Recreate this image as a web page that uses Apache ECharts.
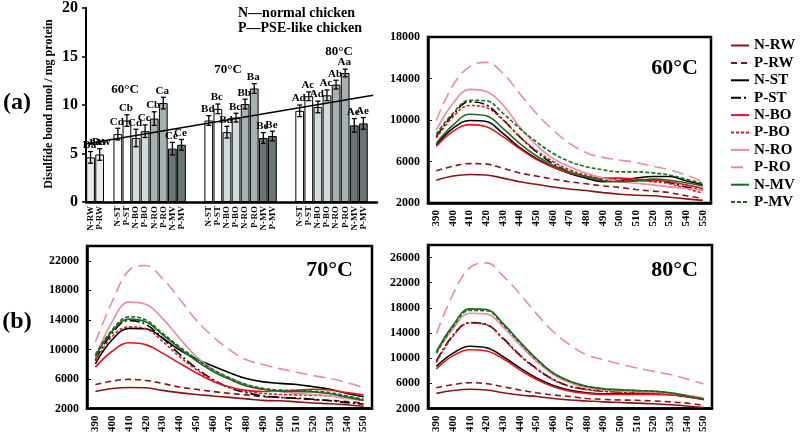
<!DOCTYPE html>
<html><head><meta charset="utf-8">
<script src="https://cdn.jsdelivr.net/npm/echarts@6/dist/echarts.min.js"></script>
<style>html,body{margin:0;padding:0;background:#fff}#c{width:800px;height:435px}</style>
</head><body><div id="c"></div>
<script>
// ---- Panel (a): disulfide bond bars ----
const barCategories = ['N-RW','P-RW','',
  'N-ST','P-ST','N-BO','P-BO','N-RO','P-RO','N-MV','P-MV','','',
  'N-ST','P-ST','N-BO','P-BO','N-RO','P-RO','N-MV','P-MV','','',
  'N-ST','P-ST','N-BO','P-BO','N-RO','P-RO','N-MV','P-MV',''];
const barValues = [4.6,4.9,null,
  7.0,8.4,6.6,7.3,8.6,10.2,5.5,5.9,null,null,
  8.4,9.6,7.2,8.7,10.1,11.7,6.6,6.8,null,null,
  9.4,10.9,9.8,11.0,12.1,13.3,7.9,8.1,null];
const barErrors = [0.6,0.6,null,
  0.6,0.6,0.9,0.65,0.7,0.6,0.65,0.55,null,null,
  0.5,0.5,0.6,0.45,0.5,0.5,0.55,0.5,null,null,
  0.6,0.45,0.6,0.55,0.45,0.4,0.7,0.6,null];
const barLetters = ['Da','Da','',
  'Cd','Cb','Cd','Cc','Cb','Ca','Ce','Ce','','',
  'Bd','Bc','Bd','Bc','Bb','Ba','Be','Be','','',
  'Ad','Ac','Ad','Ac','Ab','Aa','Ae','Ae',''];
const trendLine = [[0.003,6.0],[0.987,11.0]];

// ---- Panel (b): fluorescence spectra ----
const wavelengths = ['390','400','410','420','430','440','450','460','470','480','490','500','510','520','530','540','550'];
const seriesNames = ['N-RW','P-RW','N-ST','P-ST','N-BO','P-BO','N-RO','P-RO','N-MV','P-MV'];

const spec60_NRW = [4200,4600,4750,4700,4400,4050,3800,3550,3350,3200,3000,2850,2750,2700,2550,2400,2250];
const spec60_PRW = [5100,5550,5800,5750,5350,4900,4600,4300,4050,3850,3650,3500,3300,3150,3000,2700,2450];
const spec60_NST = [7600,9200,9950,9850,8700,7350,6300,5500,4850,4400,4050,4150,4400,4550,4550,4150,3750];
const spec60_PST = [8400,10500,11750,11450,10050,8400,6950,5800,5000,4550,4200,4150,4150,4150,3950,3550,3250];
const spec60_NBO = [7450,8900,9550,9350,8400,7250,6200,5450,4900,4550,4400,4400,4300,4200,4050,3750,3400];
const spec60_PBO = [8250,10300,11400,11200,10000,8400,7050,6000,5200,4700,4400,4200,4150,4050,3850,3400,2950];
const spec60_NRO = [9050,11600,12950,12750,11450,9350,7600,6300,5500,4900,4400,4050,3900,3750,3550,3400,3250];
const spec60_PRO = [9950,13350,15150,15550,14500,12550,10650,9050,7750,6850,6400,6150,5900,5550,5200,4700,4050];
const spec60_NMV = [7750,9500,10550,10400,9200,7750,6550,5650,5000,4550,4150,4050,4150,4300,4200,3950,3650];
const spec60_PMV = [8650,10650,11900,11850,10650,9200,7900,6800,6000,5500,5200,5000,5000,4900,4700,4300,3900];

const spec70_NRW = [4300,4700,4850,4800,4450,4150,3900,3700,3500,3300,3100,3050,2900,2750,2650,2500,2300];
const spec70_PRW = [5250,5700,5950,5800,5400,4900,4600,4300,4050,3850,3600,3500,3350,3200,3100,2950,2700];
const spec70_NST = [8050,11300,12850,12800,11550,9950,8750,7750,6850,6050,5600,5400,5250,4950,4600,4050,3600];
const spec70_PST = [8600,12200,13900,13400,11550,9400,7500,5950,4800,4150,3700,3500,3400,3250,3050,2800,2600];
const spec70_NBO = [7600,9750,10900,10650,9500,8150,6850,5700,4900,4450,4300,4350,4450,4600,4500,4150,3850];
const spec70_PBO = [8400,11750,13050,12800,11100,9050,7300,5800,4900,4350,4050,3900,3850,3800,3700,3500,3150];
const spec70_NRO = [8850,13750,16400,16100,14200,11550,9050,7300,6150,5250,4600,4300,4050,3900,3700,3350,3050];
const spec70_PRO = [11000,16450,20700,21350,19600,16900,14000,11750,9950,8600,7950,7400,6900,6450,6050,5500,4800];
const spec70_NMV = [9050,12450,14100,13750,12000,10200,8500,7050,5950,5050,4600,4350,4300,4250,4000,3550,3100];
const spec70_PMV = [9300,12650,14400,14000,12200,10400,8750,7300,6150,5250,4750,4500,4450,4350,4150,3700,3250];

const spec80_NRW = [4400,4850,5050,4950,4500,4150,3900,3600,3350,3200,3050,2950,2850,2750,2600,2400,2150];
const spec80_PRW = [5300,5800,6100,5950,5450,4950,4500,4150,3900,3600,3450,3350,3300,3200,3050,2850,2500];
const spec80_NST = [8700,10800,11900,11650,10250,8450,6850,5650,4900,4500,4350,4350,4400,4400,4250,3900,3450];
const spec80_PST = [9500,13650,15650,15350,13150,10500,8350,6600,5550,5050,4750,4650,4500,4400,4250,3900,3450];
const spec80_NBO = [8300,10400,11350,11150,9900,8150,6600,5450,4750,4400,4250,4250,4250,4250,4150,3850,3450];
const spec80_PBO = [9300,13500,15600,15300,13050,10400,8250,6550,5500,5000,4750,4600,4500,4400,4250,3900,3400];
const spec80_NRO = [10800,14700,17150,17050,14950,12100,9500,7400,6100,5300,4950,4800,4650,4600,4400,4100,3700];
const spec80_PRO = [13900,20200,24400,25150,23050,20200,17050,14200,12100,10500,9750,9050,8450,7900,7400,6700,5900];
const spec80_NMV = [11050,15250,17850,17750,15500,12600,9900,7650,6350,5550,5150,5000,4850,4750,4500,4000,3450];
const spec80_PMV = [10800,15000,17600,17550,15300,12450,9800,7600,6300,5500,5100,4950,4850,4750,4500,4000,3500];

const panel60 = [spec60_NRW,spec60_PRW,spec60_NST,spec60_PST,spec60_NBO,spec60_PBO,spec60_NRO,spec60_PRO,spec60_NMV,spec60_PMV];
const panel70 = [spec70_NRW,spec70_PRW,spec70_NST,spec70_PST,spec70_NBO,spec70_PBO,spec70_NRO,spec70_PRO,spec70_NMV,spec70_PMV];
const panel80 = [spec80_NRW,spec80_PRW,spec80_NST,spec80_PST,spec80_NBO,spec80_PBO,spec80_NRO,spec80_PRO,spec80_NMV,spec80_PMV];

// ---- styles ----
const FONT = '"Liberation Serif","Times New Roman",serif';
const barFill = {RW:'#e8ecec', ST:'#ffffff', BO:'#d2dbdb', RO:'#a6b2b2', MV:'#6a7676'};
const lineStyles = {
  'N-RW':{color:'#8b1414', type:'solid'},
  'P-RW':{color:'#8b1414', type:[6,4]},
  'N-ST':{color:'#000000', type:'solid'},
  'P-ST':{color:'#000000', type:[10,3,2,3]},
  'N-BO':{color:'#e5161b', type:'solid'},
  'P-BO':{color:'#e5161b', type:[3,2]},
  'N-RO':{color:'#ea8ca6', type:'solid'},
  'P-RO':{color:'#ea8ca6', type:[12,6]},
  'N-MV':{color:'#1d6b1d', type:'solid'},
  'P-MV':{color:'#1d6b1d', type:[4,2]}
};

const chart = echarts.init(document.getElementById('c'), null, {renderer:'canvas'});

const grids = [
  {left:86, top:7, width:291, height:195},
  {left:428, top:37, width:283, height:166, show:true, borderColor:'#000', borderWidth:2.5},
  {left:87, top:246, width:285, height:165, show:true, borderColor:'#000', borderWidth:2.5},
  {left:428, top:245, width:284, height:166, show:true, borderColor:'#000', borderWidth:2.5}
];

function specX(gi){
  return {type:'category', gridIndex:gi, data:wavelengths, boundaryGap:true,
    axisLine:{lineStyle:{color:'#000', width:2.5}},
    axisTick:{inside:true, length:3, lineStyle:{color:'#000', width:1}},
    axisLabel:{rotate:90, interval:0, margin:7, color:'#000', fontFamily:FONT, fontWeight:'bold', fontSize:11},
    splitLine:{show:false}};
}
function specY(gi, max){
  return {type:'value', gridIndex:gi, min:2000, max:max, interval:4000,
    axisLine:{show:true, lineStyle:{color:'#000', width:2.5}},
    axisTick:{show:true, inside:true, length:4, lineStyle:{color:'#000'}},
    axisLabel:{showMaxLabel: max % 4000 === 2000, margin:8, color:'#000', fontFamily:FONT, fontWeight:'bold', fontSize:12,
      formatter:function(v){return String(v);}},
    splitLine:{show:false}};
}

const series = [];
// bars
series.push({type:'bar', xAxisIndex:0, yAxisIndex:0, barWidth:'96%', silent:true,
  data: barValues.map((v,i)=> v==null ? null : {value:v, itemStyle:{color:barFill[barCategories[i].slice(2)]}}),
  itemStyle:{borderColor:'#000', borderWidth:1}, z:2});
// error bars + letters
series.push({type:'custom', xAxisIndex:0, yAxisIndex:0, silent:true, z:5,
  data: barValues.map((v,i)=> v==null ? [i, null, 0] : [i, v, barErrors[i]]).filter(d=>d[1]!=null),
  encode:{x:0, y:1},
  renderItem:function(params, api){
    const i = api.value(0), v = api.value(1), e = api.value(2);
    const top = api.coord([i, v+e]), bot = api.coord([i, v-e]);
    const cw = 2.5;
    return {type:'group', children:[
      {type:'line', shape:{x1:top[0], y1:top[1], x2:bot[0], y2:bot[1]}, style:{stroke:'#000', lineWidth:1.3}},
      {type:'line', shape:{x1:top[0]-cw, y1:top[1], x2:top[0]+cw, y2:top[1]}, style:{stroke:'#000', lineWidth:1.3}},
      {type:'line', shape:{x1:bot[0]-cw, y1:bot[1], x2:bot[0]+cw, y2:bot[1]}, style:{stroke:'#000', lineWidth:1.3}},
      {type:'text', style:{text:barLetters[i], x:top[0]-1, y:top[1]-1, align:'center', verticalAlign:'bottom',
        font:'bold 11px ' + FONT, fill:'#000'}}
    ]};
  }});
// trend line
series.push({type:'line', xAxisIndex:1, yAxisIndex:0, data:trendLine, symbol:'none', silent:true,
  lineStyle:{color:'#000', width:1.5}, z:6});

[panel60, panel70, panel80].forEach((panel, p)=>{
  panel.forEach((vals, k)=>{
    const name = seriesNames[k];
    series.push({type:'line', name:name, xAxisIndex:2+p, yAxisIndex:1+p, data:vals,
      smooth:0.4, symbol:'none', showSymbol:false, silent:true,
      lineStyle:{color:lineStyles[name].color, type:lineStyles[name].type, width:1.6},
      itemStyle:{color:lineStyles[name].color}});
  });
});

function txt(text, x, y, size, align, rot){
  return {type:'text', x:x, y:y, rotation:rot||0, silent:true,
    style:{text:text, font:'bold ' + size + 'px ' + FONT, fill:'#000', align:align||'center', verticalAlign:'middle'}};
}

chart.setOption({
  animation:false,
  backgroundColor:'#fff',
  grid:grids,
  xAxis:[
    {type:'category', gridIndex:0, data:barCategories, boundaryGap:true,
      axisLine:{lineStyle:{color:'#000', width:2.5}}, axisTick:{show:false},
      axisLabel:{rotate:90, interval:0, margin:4, color:'#000', fontFamily:FONT, fontWeight:'bold', fontSize:9},
      splitLine:{show:false}},
    {type:'value', gridIndex:0, min:0, max:1, show:false},
    specX(1), specX(2), specX(3)
  ],
  yAxis:[
    {type:'value', gridIndex:0, min:0, max:20, interval:5,
      axisLine:{show:true, lineStyle:{color:'#000', width:2}},
      axisTick:{show:true, length:4, lineStyle:{color:'#000', width:1.5}},
      axisLabel:{margin:8, color:'#000', fontFamily:FONT, fontWeight:'bold', fontSize:16},
      splitLine:{show:false}},
    specY(1, 18000), specY(2, 24000), specY(3, 28000)
  ],
  legend:{orient:'vertical', left:725, top:33, itemWidth:18, itemHeight:14, itemGap:2.4,
    data:seriesNames, selectedMode:false,
    itemStyle:{color:'rgba(0,0,0,0)', borderWidth:0, opacity:0},
    textStyle:{fontFamily:FONT, fontWeight:'bold', fontSize:15, color:'#000', lineHeight:14}},
  series:series,
  graphic:[
    txt('(a)', 17, 103, 24),
    txt('(b)', 17, 322, 24),
    txt('Disulfide bond nmol / mg protein', 49, 104, 12, 'center', Math.PI/2),
    txt('N\u2014normal chicken', 238, 13, 14, 'left'),
    txt('P\u2014PSE-like chicken', 238, 28, 14, 'left'),
    txt('raw', 100, 142, 13),
    txt('60\u00b0C', 125, 90, 13),
    txt('70\u00b0C', 228, 70, 13),
    txt('80\u00b0C', 339, 52, 13),
    txt('60\u00b0C', 698, 68, 22, 'right'),
    txt('70\u00b0C', 353, 270, 22, 'right'),
    txt('80\u00b0C', 698, 270, 22, 'right')
  ]
});
</script></body></html>
